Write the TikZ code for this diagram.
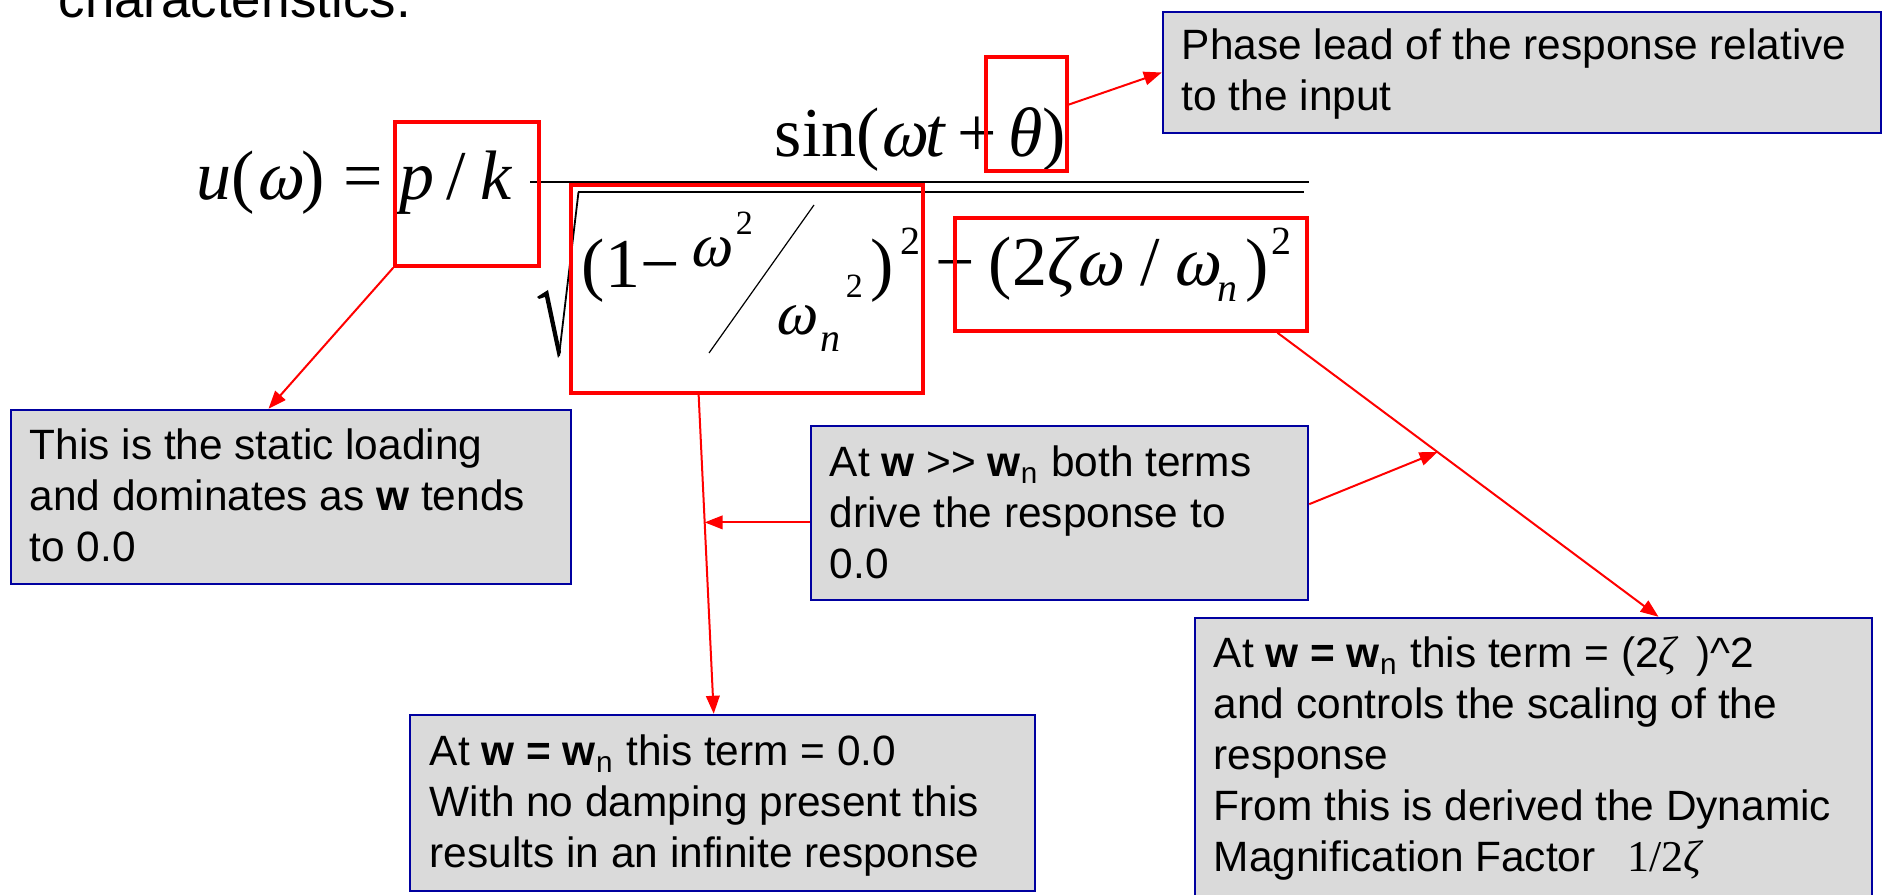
\documentclass[tikz,border=0pt]{standalone}
\usepackage{fontspec}
\setmainfont{Liberation Sans}
\newfontfamily\tnr{Liberation Serif}
\newfontfamily\tnrslant[FakeSlant=0.22]{Liberation Serif}
\usepackage{tikz}
\usetikzlibrary{arrows.meta,positioning,fit,calc}
\usepackage{xcolor}
\definecolor{boxblue}{RGB}{0,0,160}
\definecolor{boxgray}{RGB}{218,218,218}
\definecolor{markred}{RGB}{255,0,0}
\newcommand{\omg}{{\tnrslant ω}}

\begin{document}
\begin{tikzpicture}[
    x=0.25pt, y=-0.25pt,
    callout/.style={rectangle, draw=boxblue, fill=boxgray, line width=0.6pt, inner sep=0pt},
    callfont/.style={align=left, anchor=base west, inner sep=0pt, font=\fontsize{10.6pt}{12.75pt}\selectfont},
    hilite/.style={rectangle, draw=markred, line width=0.9pt, inner sep=0pt},
    eqbig/.style={inner sep=0pt, anchor=base west, font=\tnr\fontsize{17.5pt}{17.5pt}\selectfont},
    eqmid/.style={eqbig, font=\tnr\fontsize{15.5pt}{15.5pt}\selectfont},
    eqsup/.style={eqbig, font=\tnr\fontsize{10pt}{10pt}\selectfont},
    eqsupsmall/.style={eqbig, font=\tnr\fontsize{8.5pt}{8.5pt}\selectfont},
    pointer/.style={-{Triangle[length=4.5pt, width=3.4pt]}, draw=markred, line width=0.5pt}
]
\useasboundingbox (0,0) rectangle (1883,895);

% Slide text cut off at the top
\node[anchor=base west, inner sep=0pt, font=\fontsize{13.2pt}{13.2pt}\selectfont] (heading) at (58,18) {characteristics.};

% Formula, left hand side
\node[eqbig] (lhs) at (196,200) {\itshape u\upshape(\omg)};
\node[eqbig] (equals) at (343,200) {=};
\node[eqbig] (pk) at (399,200) {\itshape p\hspace{3pt}\upshape/\hspace{3.5pt}\itshape k};

% Numerator
\node[eqbig] (num) at (774,157) {sin(\omg\itshape t\upshape\,+\,\itshape θ\upshape)};

% Fraction bar and root sign
\draw[line width=0.7pt] (530,182) -- (1309,182);
\fill (537,297) -- (548,290) -- (561,352) -- (558,358) -- (545,297) -- (539,299) -- cycle;
\draw[line width=0.45pt] (559,356) -- (578.5,192);
\draw[line width=0.7pt] (578,192) -- (1304,192);

% Denominator, first term
\node[eqbig] (oneminus) at (581,288) {(1−};
\node[eqmid] (wtop) at (689,267) {\omg};
\node[eqsupsmall] (wtopsq) at (735,235) {2};
\draw[line width=0.3pt] (709,353) -- (814,205);
\node[eqmid] (wbot) at (774,335) {\omg};
\node[eqsup] (wbotn) at (820,352) {\itshape n};
\node[eqsupsmall] (wbotsq) at (845,298) {2};
\node[eqbig] (closeone) at (870,288) {)};
\node[eqsup] (sqone) at (900,255) {2};

% Denominator, second term
\node[eqbig] (plus) at (935,286) {+};
\node[eqbig] (dampw) at (988,286) {(2\itshape ζ\upshape\omg};
\node[eqbig] (slash) at (1140,286) {/};
\node[eqbig] (wn) at (1172,286) {\omg};
\node[eqsup] (wnsub) at (1217,302) {\itshape n};
\node[eqbig] (closetwo) at (1245,288) {)};
\node[eqsup] (sqtwo) at (1271,255) {2};

% Red highlight boxes
\node[hilite, fit={(395,122) (539,266)}] (pkbox) {};
\node[hilite, fit={(986,57) (1067,171)}] (thetabox) {};
\node[hilite, fit={(571,185) (923,393)}] (termone) {};
\node[hilite, fit={(955,218) (1307,331)}] (termtwo) {};

% Callout boxes
\node[callout, fit={(1163,12) (1881,133)}] (phase) {};
\node[callout, fit={(11,410) (571,584)}] (static) {};
\node[callout, fit={(811,426) (1308,600)}] (both) {};
\node[callout, fit={(410,715) (1035,891)}] (zero) {};
\node[callout, fit={(1195,618) (1872,910)}] (scale) {};

% Callout texts, placed by the baseline of their last line
\node[callfont] (phasetext) at (1181,111)
     {Phase lead of the response relative\\to the input};
\node[callfont] (statictext) at (29,562)
     {This is the static loading\\and dominates as \textbf{w} tends\\to 0.0};
\node[callfont] (bothtext) at (829,579)
     {At \textbf{w} >{}> \textbf{w}\textsubscript{n} both terms\\drive the response to\\0.0};
\node[callfont] (zerotext) at (429,868)
     {At \textbf{w = w}\textsubscript{n} this term = 0.0\\With no damping present this\\results in an infinite response};
\node[callfont] (scaletext) at (1213,872)
     {At \textbf{w = w}\textsubscript{n} this term = (2{\tnr\fontsize{11pt}{12.75pt}\selectfont\itshape ζ}\hspace{5pt})\textasciicircum 2\\and controls the scaling of the\\response\\From this is derived the Dynamic\\Magnification Factor\hspace{8pt}{\tnr\fontsize{11pt}{12.75pt}\selectfont 1/2\itshape ζ}};

% Arrows
\draw[pointer] (pkbox.south west) -- ($(static.north west)!0.46!(static.north east)$);
\draw[pointer] ($(thetabox.north east)!0.42!(thetabox.south east)$) -- (phase.west);
\coordinate (dropstart) at ($(termone.south west)!0.364!(termone.south east)$);
\coordinate (dropend) at ($(zero.north west)!0.486!(zero.north east)$);
\draw[pointer] (dropstart) -- (dropend);
\coordinate (meetone) at ($(dropstart)!0.4!(dropend)$);
\draw[pointer] (both.west |- meetone) -- (meetone);
\coordinate (slantstart) at ($(termtwo.south west)!0.912!(termtwo.south east)$);
\coordinate (slantend) at ($(scale.north west)!0.684!(scale.north east)$);
\draw[pointer] (slantstart) -- (slantend);
\coordinate (meettwo) at ($(slantstart)!0.42!(slantend)$);
\draw[pointer] ($(both.north east)!0.45!(both.south east)$) -- (meettwo);

\end{tikzpicture}
\end{document}
